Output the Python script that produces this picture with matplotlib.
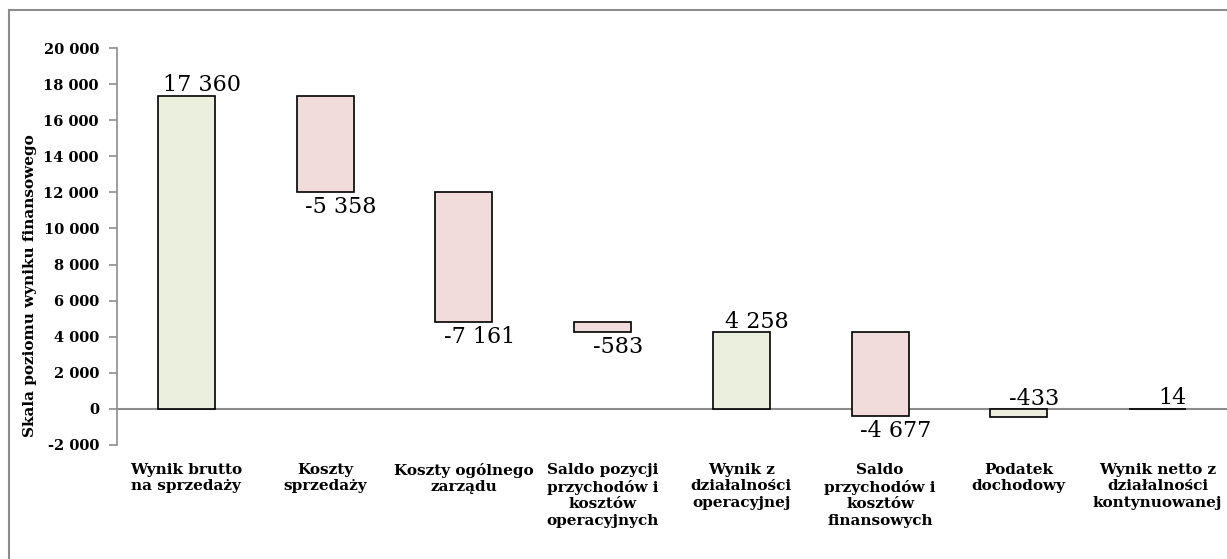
import matplotlib
matplotlib.use("Agg")
import matplotlib.pyplot as plt
from matplotlib.patches import Rectangle

categories = ["Wynik brutto\nna sprzedaży", "Koszty\nsprzedaży", "Koszty ogólnego\nzarządu",
              "Saldo pozycji\nprzychodów i\nkosztów\noperacyjnych", "Wynik z\ndziałalności\noperacyjnej",
              "Saldo\nprzychodów i\nkosztów\nfinansowych", "Podatek\ndochodowy",
              "Wynik netto z\ndziałalności\nkontynuowanej"]
values = [17360, -5358, -7161, -583, 4258, -4677, -433, 14]
bar_bottoms = [0, 17360, 12002, 4841, 0, 4258, 0, 0]
bar_tops = [17360, 12002, 4841, 4258, 4258, -419, -433, 14]
labels = ["17 360", "-5 358", "-7 161", "-583", "4 258", "-4 677", "-433", "14"]
label_above = [True, False, False, False, True, False, True, True]
colors = ["#EBF0DE", "#F2DCDB", "#F2DCDB", "#F2DCDB", "#EBF0DE", "#F2DCDB", "#EDEEDE", "#000000"]
yticks = list(range(-2000, 20001, 2000))

plt.rcParams['font.family'] = ['DejaVu Serif']

fig = plt.figure(figsize=(12.27, 5.59), dpi=100)
ax = fig.add_axes([117/1227, 1-445/559, 1-117/1227, (445-48)/559])

x = list(range(len(categories)))
for i in x:
    lo = min(bar_bottoms[i], bar_tops[i])
    h = abs(bar_tops[i] - bar_bottoms[i])
    ax.bar(i, h, bottom=lo, width=0.41, color=colors[i], edgecolor="black", linewidth=1.2, zorder=3)
    if label_above[i]:
        ya = max(bar_bottoms[i], bar_tops[i])
        ax.text(i + 0.11, ya - 40, labels[i], ha="center", va="bottom", fontsize=16,
                zorder=4)
    else:
        ya = min(bar_bottoms[i], bar_tops[i])
        ax.text(i + 0.11, ya - 220, labels[i], ha="center", va="top", fontsize=16,
                zorder=4)

ax.axhline(0, color="#8C8C8C", linewidth=1.5, zorder=2)
ax.set_xlim(-0.5, len(categories) - 0.5)
ax.set_ylim(-2000, 20000)
ax.set_yticks(yticks)
ax.set_yticklabels([f"{v:,}".replace(",", " ") for v in yticks], fontsize=10.5, fontweight="bold")
ax.set_xticks(x)
ax.set_xticklabels(categories, fontsize=11, fontweight="bold", linespacing=1.22, va="top")
ax.tick_params(axis="x", length=0, pad=13)
ax.tick_params(axis="y", length=6, width=1.2, color="#8C8C8C", direction="out", pad=7)
for s in ["top", "right", "bottom"]:
    ax.spines[s].set_visible(False)
ax.spines["left"].set_color("#8C8C8C")
ax.spines["left"].set_linewidth(1.2)

fig.text(30/1227, 1-286/559, "Skala poziomu wyniku finansowego", rotation=90,
         ha="center", va="center", fontsize=11, fontweight="bold")

fig.patches.append(Rectangle((9/1227, -0.1), 1.2, 1 - 10/559 + 0.1, transform=fig.transFigure,
                             fill=False, edgecolor="#8C8C8C", linewidth=1.5))

fig.savefig("out.png", dpi=100)
